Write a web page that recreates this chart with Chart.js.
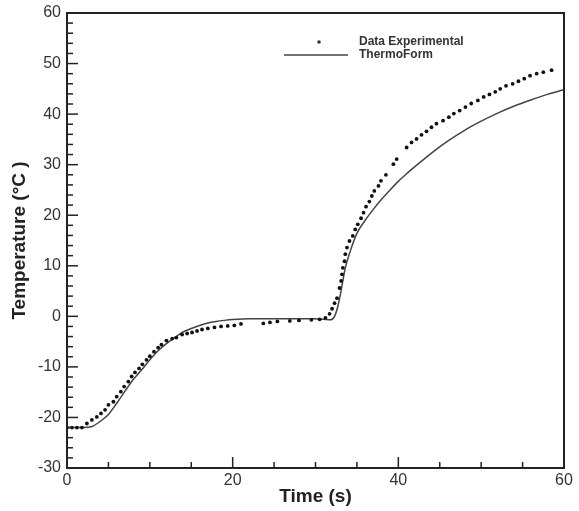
<!DOCTYPE html>
<html>
<head>
<meta charset="utf-8">
<script src="https://cdn.jsdelivr.net/npm/chart.js@4.4.1/dist/chart.umd.min.js"></script>
<style>
  html, body { margin: 0; padding: 0; background: #fff; }
  #wrap { width: 579px; height: 511px; }
</style>
</head>
<body>
<div id="wrap"><canvas id="chart" width="579" height="511"></canvas></div>
<script>
// ThermoForm simulation (solid line)
const modelTime = [0, 1, 2, 3, 4, 5, 6, 7, 8, 9, 10, 11, 12, 13, 14, 15, 16, 17, 18, 19, 20, 22, 24, 26, 28, 30, 31, 31.8, 32.3, 32.7, 33, 33.3, 33.6, 34.2, 35, 36, 37, 38, 39, 40, 41, 42, 44, 46, 48, 50, 52, 54, 56, 58, 60];
const modelTemp = [-22, -22, -22, -21.8, -20.8, -19.4, -17.2, -14.8, -12.5, -10.6, -8.6, -6.8, -5.4, -4.2, -3.1, -2.4, -1.8, -1.3, -1.0, -0.8, -0.65, -0.5, -0.5, -0.5, -0.5, -0.5, -0.6, -0.7, 0, 2, 4.3, 7, 9.6, 12.9, 16.4, 19.0, 21.2, 23.2, 25.0, 26.7, 28.2, 29.6, 32.3, 34.7, 36.8, 38.6, 40.2, 41.6, 42.8, 43.9, 44.8];

// experimental measurements (dots)
const expTime = [0, 0.6, 1.2, 1.8, 2.4, 3.0, 3.6, 4.1, 4.6, 5.0, 5.6, 6.0, 6.5, 6.9, 7.4, 7.8, 8.2, 8.7, 9.1, 9.6, 10.0, 10.5, 11.0, 11.4, 12.0, 12.7, 13.2, 13.9, 14.5, 15.1, 15.7, 16.3, 17.0, 17.8, 18.6, 19.4, 20.2, 21.0, 23.7, 24.5, 25.4, 26.9, 28.0, 29.5, 30.5, 31.2, 31.7, 32.0, 32.3, 32.6, 32.9, 33.1, 33.2, 33.3, 33.5, 33.6, 33.8, 34.1, 34.5, 34.8, 35.1, 35.5, 35.8, 36.1, 36.5, 36.8, 37.1, 37.6, 37.9, 38.5, 39.4, 39.8, 41.0, 41.6, 42.2, 42.8, 43.4, 44.0, 44.6, 45.4, 46.1, 46.7, 47.4, 48.1, 48.8, 49.6, 50.3, 51.0, 51.7, 52.3, 53.0, 53.8, 54.5, 55.2, 55.9, 56.7, 57.5, 58.5];
const expTemp = [-22, -22, -22, -22, -21.2, -20.5, -19.9, -19.2, -18.5, -17.5, -16.9, -15.9, -14.9, -13.9, -12.9, -11.9, -11.1, -10.3, -9.5, -8.6, -7.9, -7.0, -6.2, -5.6, -4.8, -4.4, -4.2, -3.6, -3.4, -3.2, -2.9, -2.6, -2.4, -2.2, -2.0, -1.9, -1.8, -1.5, -1.4, -1.2, -1.0, -0.9, -0.8, -0.7, -0.6, -0.3, 0.5, 1.5, 2.6, 3.6, 5.6, 7.0, 8.3, 9.6, 10.9, 12.3, 13.6, 14.9, 15.9, 17.2, 18.2, 19.4, 20.5, 21.7, 22.7, 23.8, 24.8, 25.8, 26.8, 28.0, 30.1, 31.1, 33.4, 34.4, 35.1, 35.9, 36.6, 37.4, 38.1, 38.7, 39.4, 40.1, 40.7, 41.4, 42.1, 42.7, 43.4, 43.9, 44.4, 45.0, 45.6, 46.0, 46.5, 47.0, 47.6, 48.0, 48.3, 48.7];

const xTicks = [0, 20, 40, 60];
const yTicks = [-30, -20, -10, 0, 10, 20, 30, 40, 50, 60];
const seriesNames = ["Data Experimental", "ThermoForm"];

const toPoints = (xs, ys) => xs.map((x, i) => ({ x: x, y: ys[i] }));

// frame + inward ticks, like the original plot
const framePlugin = {
    id: "frame",
    afterDraw(chart) {
        const ctx = chart.ctx;
        const a = chart.chartArea;
        const xs = chart.scales.x;
        const ys = chart.scales.y;
        ctx.save();
        ctx.strokeStyle = "#222";
        ctx.lineWidth = 1.5;
        for (let v = -30; v <= 60; v += 2) {
            const p = ys.getPixelForValue(v);
            ctx.beginPath();
            ctx.moveTo(a.left, p);
            ctx.lineTo(a.left + (v % 10 === 0 ? 11 : 6), p);
            ctx.stroke();
        }
        for (let v = 0; v <= 60; v += 5) {
            const p = xs.getPixelForValue(v);
            ctx.beginPath();
            ctx.moveTo(p, a.bottom);
            ctx.lineTo(p, a.bottom - (v % 20 === 0 ? 11 : 6));
            ctx.stroke();
        }
        ctx.lineWidth = 2;
        ctx.strokeRect(a.left, a.top, a.right - a.left, a.bottom - a.top);
        ctx.restore();
    }
};

const legendPlugin = {
    id: "innerLegend",
    afterDraw(chart) {
        const ctx = chart.ctx;
        ctx.save();
        ctx.fillStyle = "#333";
        ctx.font = "bold 12px 'Liberation Sans', Arial, sans-serif";
        ctx.textBaseline = "middle";
        ctx.beginPath();
        ctx.arc(319, 42, 1.8, 0, Math.PI * 2);
        ctx.fill();
        ctx.fillText(seriesNames[0], 359, 42);
        ctx.strokeStyle = "#444";
        ctx.lineWidth = 1.5;
        ctx.beginPath();
        ctx.moveTo(284, 55);
        ctx.lineTo(348, 55);
        ctx.stroke();
        ctx.fillText(seriesNames[1], 359, 55);
        ctx.restore();
    }
};

new Chart(document.getElementById("chart"), {
    type: "scatter",
    data: {
        datasets: [
            {
                label: seriesNames[0],
                data: toPoints(expTime, expTemp),
                showLine: false,
                pointRadius: 1.9,
                pointBackgroundColor: "#111",
                pointBorderWidth: 0,
            },
            {
                label: seriesNames[1],
                data: toPoints(modelTime, modelTemp),
                showLine: true,
                borderColor: "#444",
                borderWidth: 1.5,
                pointRadius: 0,
                cubicInterpolationMode: "monotone",
            },
        ],
    },
    options: {
        responsive: false,
        animation: false,
        layout: { padding: { left: 8, right: 15, top: 13, bottom: 0 } },
        plugins: { legend: { display: false }, tooltip: { enabled: false } },
        scales: {
            x: {
                type: "linear",
                min: 0,
                max: 60,
                afterBuildTicks: (s) => { s.ticks = xTicks.map((v) => ({ value: v })); },
                afterFit: (s) => { s.height = 43; s.paddingLeft = 0; s.paddingRight = 0; },
                grid: { display: false, drawTicks: false },
                border: { display: false },
                ticks: { color: "#333", padding: 3, font: { size: 16, family: "'Liberation Sans', Arial, sans-serif" }, maxRotation: 0 },
                title: {
                    display: true,
                    text: "Time (s)",
                    color: "#222",
                    padding: { top: 0, bottom: 3 },
                    font: { size: 19, weight: "bold", family: "'Liberation Sans', Arial, sans-serif" },
                },
            },
            y: {
                min: -30,
                max: 60,
                afterBuildTicks: (s) => { s.ticks = yTicks.map((v) => ({ value: v })); },
                afterFit: (s) => { s.width = 59; s.paddingTop = 0; s.paddingBottom = 0; },
                grid: { display: false, drawTicks: false },
                border: { display: false },
                ticks: { color: "#333", padding: 6, font: { size: 16, family: "'Liberation Sans', Arial, sans-serif" } },
                title: {
                    display: true,
                    text: "Temperature (°C )",
                    color: "#222",
                    padding: { top: 0, bottom: 0 },
                    font: { size: 19, weight: "bold", family: "'Liberation Sans', Arial, sans-serif" },
                },
            },
        },
    },
    plugins: [framePlugin, legendPlugin],
});
</script>
</body>
</html>
